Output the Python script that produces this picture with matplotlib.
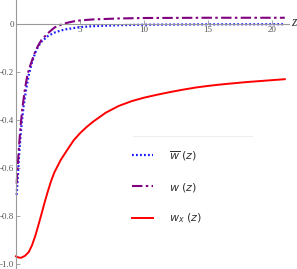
import matplotlib
matplotlib.use('Agg')
import matplotlib.pyplot as plt
from matplotlib.lines import Line2D

# values
z_wbar = [0.05, 0.15, 0.25, 0.35, 0.45, 0.6, 0.8, 1.0, 1.25, 1.5, 1.75, 2.0, 2.5, 3.0, 3.5, 4.0, 5.0, 6.0, 8.0, 10, 15, 21]
wbar = [-0.712, -0.63, -0.54, -0.47, -0.41, -0.34, -0.27, -0.212, -0.16, -0.12, -0.092, -0.073, -0.05, -0.036, -0.027, -0.021, -0.013, -0.009, -0.005, -0.003, -0.0015, -0.001]

z_w = [0.05, 0.15, 0.25, 0.35, 0.5, 0.7, 0.9, 1.1, 1.3, 1.5, 1.75, 2.0, 2.5, 3.0, 3.5, 4.0, 4.5, 5.0, 6.0, 8.0, 10, 15, 21]
w = [-0.665, -0.58, -0.50, -0.43, -0.35, -0.27, -0.21, -0.175, -0.145, -0.115, -0.088, -0.066, -0.038, -0.015, -0.003, 0.005, 0.011, 0.015, 0.019, 0.023, 0.025, 0.026, 0.026]

z_wx = [0.0, 0.2, 0.4, 0.7, 1.0, 1.25, 1.5, 1.75, 2.0, 2.25, 2.5, 2.75, 3.0, 3.5, 4.0, 4.5, 5.0, 5.5, 6.0, 7.0, 8.0, 9.0, 10.0,
        11.0, 12.0, 13.0, 14.0, 15.0, 16.0, 17.0, 18.0, 19.0, 20.0, 21.0]
wx = [-0.968, -0.973, -0.974, -0.966, -0.950, -0.922, -0.884, -0.838, -0.790, -0.741, -0.695, -0.653, -0.618, -0.566, -0.525,
      -0.485, -0.455, -0.430, -0.408, -0.370, -0.342, -0.322, -0.307, -0.295, -0.284, -0.274, -0.265, -0.258, -0.252,
      -0.247, -0.242, -0.238, -0.234, -0.230]

xticks = [5, 10, 15, 20]
yticks = [0, -0.2, -0.4, -0.6, -0.8, -1.0]
ytick_labels = ["0", "-0.2", "-0.4", "-0.6", "-0.8", "-1.0"]

fig = plt.figure(figsize=(2.97, 2.69), dpi=100)
ax = fig.add_axes([0, 0, 1, 1])
ax.set_facecolor('none')

ax.plot(z_wbar, wbar, color=(0.1, 0.1, 1.0), lw=1.6, linestyle=(0, (0.8, 1.0)), label=r"$\overline{w}\;(z)$")
ax.plot(z_w, w, color=(0.5, 0.0, 0.5), lw=1.5, dashes=(5, 1.6, 1.2, 1.6), label=r"$w\;(z)$")
ax.plot(z_wx, wx, color=(1.0, 0.0, 0.0), lw=1.4, label=r"$w_x\;(z)$")

ax.set_xlim(-16 / 12.8, 281 / 12.8)
ax.set_ylim(-245 / 240, 24 / 240)

for s in ['top', 'right']:
    ax.spines[s].set_visible(False)
ax.spines['left'].set_position(('data', 0))
ax.spines['bottom'].set_position(('data', 0))
ax.spines['bottom'].set_bounds(0, 21.3)
for s in ['left', 'bottom']:
    ax.spines[s].set_color('#999999')
    ax.spines[s].set_linewidth(0.8)

ax.set_xticks(xticks)
ax.set_xticklabels([str(t) for t in xticks])
ax.set_yticks(yticks)
ax.set_yticklabels(ytick_labels)
ax.tick_params(axis='both', direction='in', length=3, width=0.6, color='#999999',
               labelsize=6.5, labelcolor='#555555', pad=1.5)
for lab in ax.get_xticklabels() + ax.get_yticklabels():
    lab.set_fontfamily('Liberation Serif')

ax.text(21.7, 0.005, "z", fontsize=10, style='italic', family='Liberation Serif',
        ha='center', va='center', color='#333333')

leg = ax.legend(loc='upper left', bbox_to_anchor=(132 / 297, 1 - 149 / 269), frameon=False,
                fontsize=8, handlelength=1.9, handletextpad=1.4, labelspacing=1.62, borderpad=0,
                borderaxespad=0)
for t in leg.get_texts():
    t.set_color('#333333')

fig.add_artist(Line2D([133 / 297, 252 / 297], [1 - 135.5 / 269, 1 - 135.5 / 269],
                      color='#eeeeee', lw=0.8, transform=fig.transFigure))

fig.savefig("out.png", dpi=100)
